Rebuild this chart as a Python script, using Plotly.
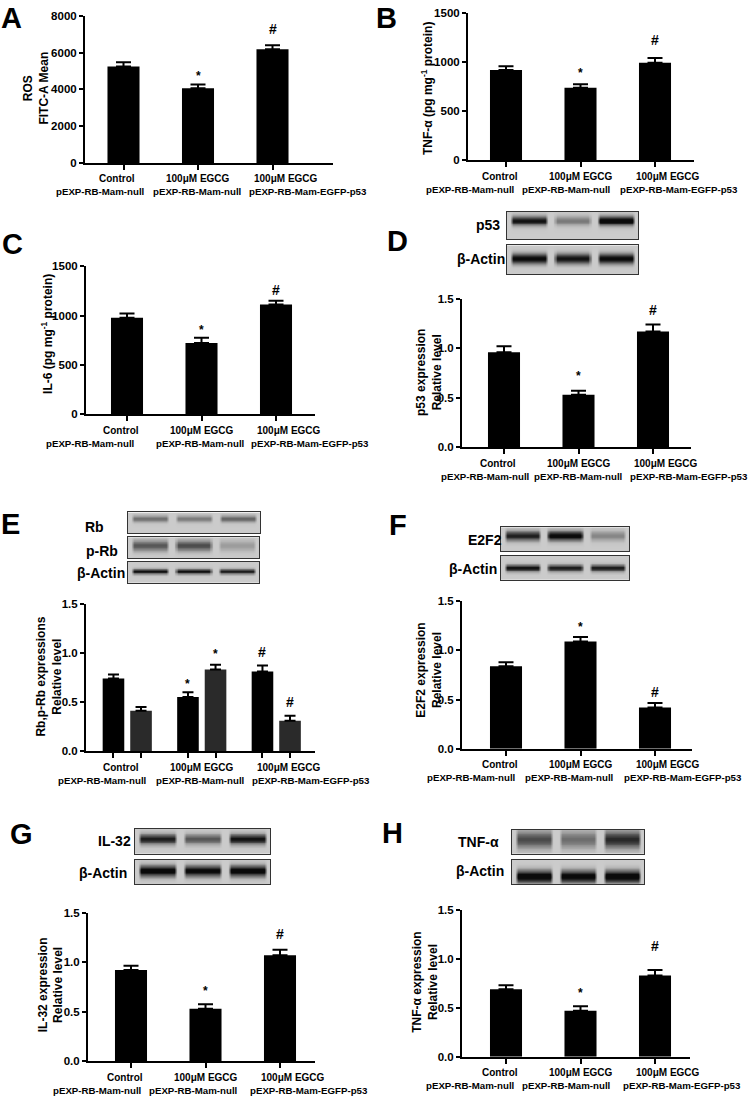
import numpy as np
import plotly.graph_objects as go

W, H = 751, 1102
FONT = "Liberation Sans"

groups = ["Control", "100μM EGCG", "100μM EGCG"]
vectors = ["pEXP-RB-Mam-null", "pEXP-RB-Mam-null", "pEXP-RB-Mam-EGFP-p53"]

# bar heights (mean) and upper error (SEM)
ros_mean = [5250, 4070, 6190]
ros_sem = [230, 200, 210]
tnf_elisa_mean = [918, 738, 993]
tnf_elisa_sem = [38, 37, 47]
il6_mean = [978, 723, 1113]
il6_sem = [44, 54, 38]
p53_mean = [0.96, 0.53, 1.17]
p53_sem = [0.06, 0.04, 0.07]
rb_mean = [0.74, 0.55, 0.81]
rb_sem = [0.04, 0.05, 0.06]
prb_mean = [0.41, 0.83, 0.31]
prb_sem = [0.04, 0.05, 0.05]
e2f2_mean = [0.84, 1.09, 0.42]
e2f2_sem = [0.04, 0.045, 0.045]
il32_mean = [0.92, 0.53, 1.07]
il32_sem = [0.045, 0.045, 0.055]
tnf_wb_mean = [0.69, 0.47, 0.83]
tnf_wb_sem = [0.04, 0.045, 0.057]

# western blot band darkness per lane (0 = none, 1 = black)
p53_band = [0.8, 0.35, 0.95]
actin_d = [0.85, 0.8, 0.85]
rb_band = [0.4, 0.35, 0.45]
prb_band = [0.5, 0.55, 0.2]
actin_e = [0.8, 0.8, 0.75]
e2f2_band = [0.75, 0.9, 0.3]
actin_f = [0.8, 0.75, 0.75]
il32_band = [0.75, 0.5, 0.8]
actin_g = [0.9, 0.85, 0.9]
tnf_band = [0.55, 0.4, 0.7]
actin_h = [0.95, 0.9, 0.95]

BOLD = dict(family=FONT, color="black", weight="bold")


def f(size):
    return dict(BOLD, size=size)


fig = go.Figure()
layout = {}
annotations = []
n_ax = [0]


def new_axes(x0, x1, ytop, ybot):
    n_ax[0] += 1
    s = "" if n_ax[0] == 1 else str(n_ax[0])
    layout["xaxis" + s] = dict(domain=[x0 / W, x1 / W], anchor="y" + s)
    layout["yaxis" + s] = dict(domain=[1 - ybot / H, 1 - ytop / H], anchor="x" + s)
    return "x" + s, "y" + s, "xaxis" + s, "yaxis" + s


def note(text, x, y, size, **kw):
    d = dict(text=text, x=x, y=y, showarrow=False, font=f(size),
             xanchor="center", yanchor="middle")
    d.update(kw)
    annotations.append(d)


def one(mean, sem):
    return [(mean, sem, "black", 0.0, 0.43, 7.5)]


panels = [
    dict(series=one(ros_mean, ros_sem), box=(85, 333, 10, 158.7), c0=123.5,
         ymax=8000, dtick=2000, fmt="{:.0f}", title="ROS<br>FITC-A Mean",
         title_at=(36.5, 83), letter="A", letter_at=(11.5, 12.5),
         line2=[100, 197, 308], marks=[(0, 1, "*", 11), (0, 2, "#", 16)]),
    dict(series=one(tnf_elisa_mean, tnf_elisa_sem), box=(468, 694, 7, 156), c0=506,
         ymax=1500, dtick=500, fmt="{:.0f}", title="TNF-α (pg mg<sup>-1</sup> protein)",
         title_at=(427, 84), letter="B", letter_at=(386, 12.5),
         line2=[470, 566, 679], marks=[(0, 1, "*", 14), (0, 2, "#", 18)]),
    dict(series=one(il6_mean, il6_sem), box=(86, 315, 263.3, 412.7), c0=127,
         ymax=1500, dtick=500, fmt="{:.0f}", title="IL-6 (pg mg<sup>-1</sup> protein)",
         title_at=(47.5, 332), letter="C", letter_at=(12.5, 241),
         line2=[89.5, 200, 310], marks=[(0, 1, "*", 10), (0, 2, "#", 11)]),
    dict(series=one(p53_mean, p53_sem), box=(462, 691, 296, 446), c0=504,
         ymax=1.5, dtick=0.5, fmt="{:.1f}", title="p53 expression<br>Relative level",
         title_at=(429, 371), letter="D", letter_at=(397, 238),
         line2=[485, 578, 689], marks=[(0, 1, "*", 17), (0, 2, "#", 14)]),
    dict(series=[(rb_mean, rb_sem, "black", -0.185, 0.29, 5.5),
                 (prb_mean, prb_sem, "#2a2a2a", 0.185, 0.29, 5.5)],
         box=(86, 315, 604.3, 753.3), c0=127.25,
         ymax=1.5, dtick=0.5, fmt="{:.1f}", title="Rb,p-Rb expressions<br>Relative level",
         title_at=(49, 678), letter="E", letter_at=(10.5, 523.5),
         line2=[102, 200, 311],
         marks=[(0, 1, "*", 11), (1, 1, "*", 13), (0, 2, "#", 14), (1, 2, "#", 14)]),
    dict(series=one(e2f2_mean, e2f2_sem), box=(462, 692, 601.7, 751), c0=506,
         ymax=1.5, dtick=0.5, fmt="{:.1f}", title="E2F2 expression<br>Relative level",
         title_at=(429, 672), letter="F", letter_at=(398, 525),
         line2=[470.5, 569, 683], marks=[(0, 1, "*", 13), (0, 2, "#", 11)]),
    dict(series=one(il32_mean, il32_sem), box=(88, 315, 916.7, 1066.7), c0=131,
         ymax=1.5, dtick=0.5, fmt="{:.1f}", title="IL-32 expression<br>Relative level",
         title_at=(51, 990), letter="G", letter_at=(21.5, 837),
         line2=[97, 193, 309], marks=[(0, 1, "*", 16), (0, 2, "#", 16)]),
    dict(series=one(tnf_wb_mean, tnf_wb_sem), box=(462, 690, 914, 1062.3), c0=506,
         ymax=1.5, dtick=0.5, fmt="{:.1f}", title="TNF-α expression<br>Relative level",
         title_at=(425.5, 987), letter="H", letter_at=(392.5, 836),
         line2=[470, 566, 682], marks=[(0, 1, "*", 16), (0, 2, "#", 24)]),
]

SPACING = 74.5  # px between group centres
LINE1_SHIFT = [-6.5, 0, 13]

for p in panels:
    x0, x1, yt, yb = p["box"]
    xa, ya, xk, yk = new_axes(x0, x1, yt, yb)
    tickx = []
    for mean, sem, color, off, bw, cap in p["series"]:
        xs = [i + off for i in range(3)]
        tickx += xs
        fig.add_trace(go.Bar(
            x=xs, y=mean, width=bw, xaxis=xa, yaxis=ya, showlegend=False,
            marker=dict(color=color, line=dict(width=0)),
            error_y=dict(type="data", array=sem, arrayminus=[0, 0, 0], symmetric=False,
                         color="black", thickness=2, width=cap)))
    layout[xk].update(
        range=[(x0 - p["c0"]) / SPACING, (x1 - p["c0"]) / SPACING],
        tickvals=sorted(tickx), showticklabels=False, ticks="outside", ticklen=5,
        tickwidth=1.5, tickcolor="black", showline=True, linecolor="black",
        linewidth=2, showgrid=False, zeroline=False)
    yvals = [k * p["dtick"] for k in range(int(round(p["ymax"] / p["dtick"])) + 1)]
    layout[yk].update(
        range=[0, p["ymax"]], tickvals=yvals, ticktext=[p["fmt"].format(v) for v in yvals],
        ticks="outside", ticklen=4, tickwidth=1.5, tickcolor="black", tickfont=f(11.5),
        showline=True, linecolor="black", linewidth=2, showgrid=False, zeroline=False)

    for i in range(3):
        note(groups[i], i, 0, 10, xref=xa, xshift=LINE1_SHIFT[i],
             yref=ya + " domain", yshift=-16)
        note(vectors[i], p["line2"][i] / W, 0, 9.7, xref="paper",
             yref=ya + " domain", yshift=-29)
    for s, i, sym, gap in p["marks"]:
        mean, sem, _, off, _, _ = p["series"][s]
        note(sym, i + off, mean[i] + sem[i], 12 if sym == "*" else 14, xref=xa, yref=ya,
             yshift=gap - (2.7 if sym == "*" else 0))
    tx, ty = p["title_at"]
    note(p["title"], tx / W, 1 - ty / H, 12, xref="paper", yref="paper", textangle=-90)
    lx, ly = p["letter_at"]
    note(p["letter"], lx / W, 1 - ly / H, 29, xref="paper", yref="paper")

# blots: (box, lane darkness, band centre, band sigma, label, label position)
blots = [
    ((507, 638, 208, 236), p53_band, 0.32, 0.16, "p53", (488, 221)),
    ((507, 638, 242, 271), actin_d, 0.45, 0.17, "β-Actin", (481, 256)),
    ((128, 260, 512, 533), rb_band, 0.3, 0.15, "Rb", (94, 527)),
    ((128, 259, 537, 558), prb_band, 0.4, 0.25, "p-Rb", (102, 551)),
    ((128, 259, 562, 583), actin_e, 0.45, 0.12, "β-Actin", (101, 573)),
    ((501, 629, 527, 551), e2f2_band, 0.35, 0.2, "E2F2", (485, 540)),
    ((501, 629, 556, 580), actin_f, 0.5, 0.14, "β-Actin", (473, 569)),
    ((135, 270, 832, 857), il32_band, 0.4, 0.2, "IL-32", (114, 844)),
    ((135, 270, 863, 888), actin_g, 0.45, 0.22, "β-Actin", (103, 877)),
    ((512, 644, 833, 857), tnf_band, 0.4, 0.35, "TNF-α", (478, 845)),
    ((512, 644, 863, 888), actin_h, 0.68, 0.25, "β-Actin", (480, 875)),
]

COLS, ROWS = 120, 30
bx = (np.arange(COLS) + 0.5) / COLS * 3
by = (np.arange(ROWS) + 0.5) / ROWS
lane_idx = np.clip(np.floor(bx).astype(int), 0, 2)
lane_pos = np.abs(bx - np.floor(bx) - 0.5)
hprof = np.clip((0.44 - lane_pos) / 0.08, 0, 1)

for box, lanes, centre, sigma, label, (lx, ly) in blots:
    xa, ya, xk, yk = new_axes(*box)
    vprof = np.exp(-((by - centre) / sigma) ** 2)
    z = 0.17 + np.outer(vprof, np.array(lanes)[lane_idx] * hprof)
    fig.add_trace(go.Heatmap(z=z, x=bx, y=by, xaxis=xa, yaxis=ya, zmin=0, zmax=1,
                             zsmooth="best", showscale=False, hoverinfo="skip",
                             colorscale=[[0, "#f2f2f2"], [1, "#0a0a0a"]]))
    for k, rng in ((xk, [0, 3]), (yk, [1, 0])):
        layout[k].update(range=rng, showticklabels=False, ticks="", showgrid=False,
                         zeroline=False, showline=True, mirror=True, linecolor="#333",
                         linewidth=1)
    note(label, lx / W, 1 - ly / H, 14, xref="paper", yref="paper")

fig.update_layout(width=W, height=H, margin=dict(l=0, r=0, t=0, b=0),
                  paper_bgcolor="white", plot_bgcolor="white", showlegend=False,
                  annotations=annotations, **layout)
fig.write_html("out.html", config={"displayModeBar": False},
               post_script="document.body.style.margin = '0px';")
